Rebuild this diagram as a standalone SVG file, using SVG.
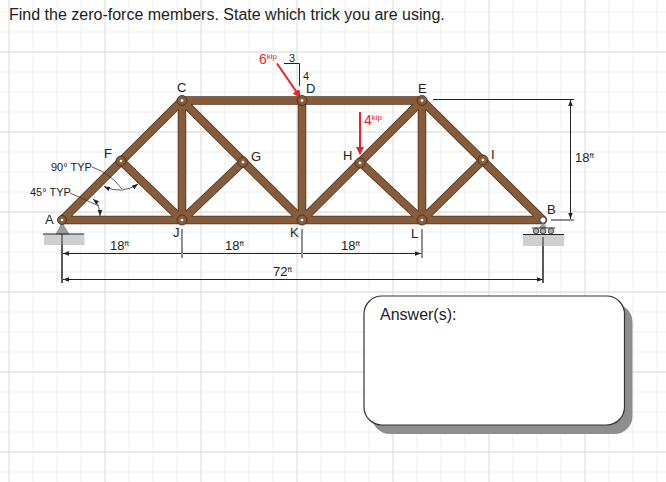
<svg xmlns="http://www.w3.org/2000/svg" width="666" height="482" viewBox="0 0 666 482">
<defs>
<marker id="arr" viewBox="0 0 8 6" refX="8" refY="3" markerWidth="6" markerHeight="4.5" markerUnits="userSpaceOnUse" orient="auto-start-reverse"><path d="M0 0L8 3L0 6Z" fill="#222"/></marker>
<marker id="red" viewBox="0 0 8 8" refX="7" refY="4" markerWidth="8" markerHeight="8" markerUnits="userSpaceOnUse" orient="auto"><path d="M0 0L8 4L0 8Z" fill="#ee1c2e"/></marker>
</defs>
<style>
text{font-family:"Liberation Sans",Arial,sans-serif;fill:#222}
.g1{stroke:#efefef;stroke-width:1}
.g2{stroke:#e2e2e2;stroke-width:1.300}
.mo{stroke:#4a3524;stroke-width:8.500;stroke-linecap:round}
.mi{stroke:#875c3b;stroke-width:7;stroke-linecap:round}
.pin{fill:#875c3b;stroke:#3a2a1c;stroke-width:.8}
.hole{fill:#fff;stroke:none}
.dim{stroke:#222;stroke-width:1;fill:none}
.dima{stroke:#222;stroke-width:1;fill:none;marker-start:url(#arr);marker-end:url(#arr)}
.lb{font-size:13px}
.d{font-size:13px}
.sup{font-size:8px}
.red{fill:#ee1c2e}
.rl{stroke:#ee1c2e;stroke-width:2;fill:none;marker-end:url(#red)}
.thin{stroke:#333;stroke-width:.8;fill:none}
.thina{stroke:#333;stroke-width:.8;fill:none;marker-start:url(#arr);marker-end:url(#arr)}
</style>
<rect width="666" height="482" fill="#fff"/>
<g id="grid">
<path class="g1" d="M33 0V482M57 0V482M81 0V482M129 0V482M153 0V482M177 0V482M225 0V482M249 0V482M273 0V482M321 0V482M345 0V482M369 0V482M417 0V482M441 0V482M465 0V482M513 0V482M537 0V482M561 0V482M609 0V482M633 0V482M657 0V482M0 12H666M0 32H666M0 72H666M0 92H666M0 112H666M0 152H666M0 172H666M0 192H666M0 232H666M0 252H666M0 272H666M0 312H666M0 332H666M0 352H666M0 392H666M0 412H666M0 432H666M0 472H666"/>
<path class="g2" d="M9 0V482M105 0V482M201 0V482M297 0V482M393 0V482M489 0V482M585 0V482M0 52H666M0 132H666M0 212H666M0 292H666M0 372H666M0 452H666"/>
</g>
<text x="9" y="20" font-size="16">Find the zero-force members. State which trick you are using.</text>
<g id="connectors">
<g id="members-outline" class="mo">
<path d="M62 220H543M182 100.500H422M62 220L182 100.500M422 100.500L543 220M182 100.500V220M302 100.500V220M422 100.500V220M121 161L182 220M182 100.500L302 220M243 162L182 220M302 220L422 100.500M361 163L422 220M483 160L422 220"/>
</g>
<g id="members-fill" class="mi">
<path d="M62 220H543M182 100.500H422M62 220L182 100.500M422 100.500L543 220M182 100.500V220M302 100.500V220M422 100.500V220M121 161L182 220M182 100.500L302 220M243 162L182 220M302 220L422 100.500M361 163L422 220M483 160L422 220"/>
</g>
<g id="dimensions">
<path class="dim" d="M62 222V283M182 229V258M302 229V258M422 229V258M543 238V283M433 99.500H574M551 220H574"/>
<path class="dima" d="M63 253.500H181M183 253.500H301M303 253.500H421"/>
<path class="dima" d="M63 279.500H543"/>
<path class="dima" d="M570.500 100V219"/>
</g>
<g id="angle-marks">
<path class="thina" d="M104 186.500Q122 195 138 184"/>
<path class="thina" d="M93 199Q100 205 100 216"/>
<path class="thin" d="M92 167Q110 173 122 189M70 193L99 206"/>
</g>
<g id="loads">
<path class="rl" d="M277 63.500L300 97"/>
<path class="rl" d="M360 112V154"/>
<path class="dim" d="M284 63.500H299.500V86"/>
</g>
</g>
<g id="support-A">
<rect x="44" y="234" width="40.500" height="11" fill="#cfcfcf"/>
<path d="M56 234L62 223L69 234Z" fill="#9c9c9c" stroke="#777" stroke-width=".6"/>
<path d="M43 234H84" stroke="#222" stroke-width="1"/>
<path d="M62 234V283" stroke="#222" stroke-width="1"/>
</g>
<g id="support-B">
<rect x="523" y="235" width="41" height="11" fill="#cfcfcf"/>
<path d="M539 228L543 222L547 228Z" fill="#9c9c9c"/>
<path d="M532 228H555" stroke="#222" stroke-width="1"/>
<circle cx="536" cy="231" r="2.800" fill="#aaa" stroke="#333" stroke-width=".8"/>
<circle cx="543" cy="231" r="2.800" fill="#aaa" stroke="#333" stroke-width=".8"/>
<circle cx="551" cy="231" r="2.800" fill="#aaa" stroke="#333" stroke-width=".8"/>
<path d="M523 234.500H564" stroke="#222" stroke-width="1"/>
<path d="M543 237V283" stroke="#222" stroke-width="1"/>
</g>
<g id="node-A"><circle class="pin" cx="62" cy="220" r="4.500"/><circle class="hole" cx="62" cy="220" r="1.300"/><text class="lb" x="45" y="224">A</text></g>
<g id="node-F"><circle class="pin" cx="121" cy="161" r="5"/><circle class="hole" cx="121" cy="161" r="1.300"/><text class="lb" x="104" y="158">F</text></g>
<g id="node-C"><circle class="pin" cx="182" cy="100.500" r="5"/><circle class="hole" cx="182" cy="100.500" r="1.300"/><text class="lb" x="177" y="92">C</text></g>
<g id="node-J"><circle class="pin" cx="182" cy="220" r="5"/><circle class="hole" cx="182" cy="220" r="1.300"/><text class="lb" x="173" y="237">J</text></g>
<g id="node-G"><circle class="pin" cx="243" cy="162" r="5"/><circle class="hole" cx="243" cy="162" r="1.300"/><text class="lb" x="251" y="161">G</text></g>
<g id="node-D"><circle class="pin" cx="302" cy="100.500" r="5"/><circle class="hole" cx="302" cy="100.500" r="1.300"/><text class="lb" x="306" y="93">D</text></g>
<g id="node-K"><circle class="pin" cx="302" cy="220" r="5"/><circle class="hole" cx="302" cy="220" r="1.300"/><text class="lb" x="290" y="237">K</text></g>
<g id="node-H"><circle class="pin" cx="360" cy="163" r="5"/><circle class="hole" cx="360" cy="163" r="1.300"/><text class="lb" x="343" y="160">H</text></g>
<g id="node-E"><circle class="pin" cx="422" cy="100.500" r="5"/><circle class="hole" cx="422" cy="100.500" r="1.300"/><text class="lb" x="418" y="93">E</text></g>
<g id="node-L"><circle class="pin" cx="422" cy="220" r="5"/><circle class="hole" cx="422" cy="220" r="1.300"/><text class="lb" x="411" y="238">L</text></g>
<g id="node-I"><circle class="pin" cx="483" cy="160" r="5"/><circle class="hole" cx="483" cy="160" r="1.300"/><text class="lb" x="491" y="159">I</text></g>
<g id="node-B"><circle cx="543" cy="220" r="3.200" fill="#fff" stroke="#333" stroke-width="1"/><text class="lb" x="547" y="214">B</text></g>
<g id="labels">
<text x="51" y="171" font-size="11">90° TYP</text>
<text x="30" y="196" font-size="11">45° TYP</text>
<text class="d" x="110" y="250">18<tspan class="sup" dy="-4">ft</tspan></text>
<text class="d" x="225" y="250">18<tspan class="sup" dy="-4">ft</tspan></text>
<text class="d" x="341" y="250">18<tspan class="sup" dy="-4">ft</tspan></text>
<text class="d" x="273" y="276">72<tspan class="sup" dy="-4">ft</tspan></text>
<text class="d" x="575" y="162">18<tspan class="sup" dy="-4">ft</tspan></text>
<text x="289" y="62" font-size="11">3</text>
<text x="303" y="80" font-size="11">4</text>
<text class="red" x="259" y="64" font-size="14">6<tspan class="sup" dy="-5">kip</tspan></text>
<text class="red" x="364" y="125" font-size="14">4<tspan class="sup" dy="-5">kip</tspan></text>
</g>
<g id="answer-box">
<rect x="372" y="304" width="260.500" height="130" rx="18" fill="#8e8e90"/>
<rect x="364" y="296" width="260.500" height="129" rx="18" fill="#fff" stroke="#333" stroke-width="1.200"/>
<text x="380" y="320" font-size="16">Answer(s):</text>
</g>
</svg>
